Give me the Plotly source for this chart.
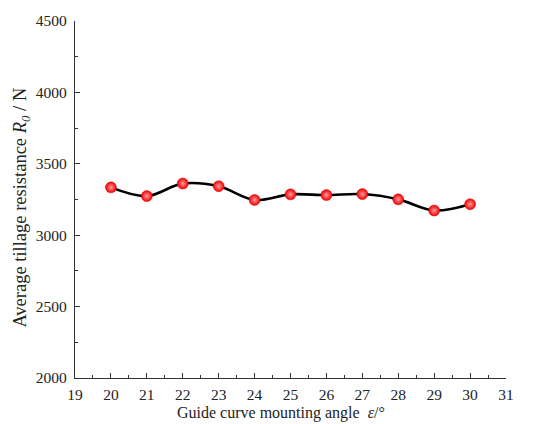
import plotly.graph_objects as go

# Guide curve mounting angle (deg) and average tillage resistance (N)
angles = [20, 21, 22, 23, 24, 25, 26, 27, 28, 29, 30]
resistance = [3335, 3274, 3362, 3343, 3247, 3286, 3281, 3288, 3251, 3173, 3217]

x_ticks = list(range(19, 32))
y_ticks = [2000, 2500, 3000, 3500, 4000, 4500]

serif = "Liberation Serif, Times New Roman, serif"
ink = "#222222"

fig = go.Figure()
fig.add_trace(go.Scatter(
    x=angles, y=resistance,
    mode="lines+markers",
    line=dict(color="black", width=2.6, shape="spline", smoothing=1.0),
    marker=dict(size=11, color="#f20000",
                gradient=dict(type="radial", color="#ff9a9a"),
                line=dict(width=0.5, color="#e00000")),
    showlegend=False,
))

axis_common = dict(
    showgrid=False, zeroline=False, showline=True,
    linecolor="#333333", linewidth=1.2,
    ticks="inside", ticklen=5, tickwidth=1.2, tickcolor="#333333",
    tickfont=dict(family=serif, size=15.5, color=ink),
    mirror=False,
)

fig.update_layout(
    width=548, height=424,
    margin=dict(l=75, r=42, t=14, b=46),
    paper_bgcolor="white", plot_bgcolor="white",
    xaxis=dict(
        range=[19, 31], tickvals=x_ticks,
        minor=dict(ticks="inside", ticklen=3, tickwidth=1.2, tickcolor="#333333", dtick=0.5, tick0=19),
        ticklabelstandoff=2,
        **axis_common,
    ),
    yaxis=dict(
        range=[2000, 4500], tickvals=y_ticks,
        minor=dict(ticks="inside", ticklen=3, tickwidth=1.2, tickcolor="#333333", dtick=250, tick0=2000),
        ticklabelstandoff=4,
        **axis_common,
    ),
)

# axis titles placed as annotations
fig.add_annotation(
    text="Guide curve mounting angle  <i>ε</i>/°",
    xref="paper", yref="paper", x=0.478, y=-0.097,
    xanchor="center", yanchor="middle", showarrow=False,
    font=dict(family=serif, size=16, color=ink),
)
fig.add_annotation(
    text="Average tillage resistance <i>R<sub>0</sub></i> / N",
    xref="paper", yref="paper", x=-0.124, y=0.476,
    xanchor="center", yanchor="middle", showarrow=False, textangle=-90,
    font=dict(family=serif, size=18.5, color=ink),
)

fig.write_html("out.html")
